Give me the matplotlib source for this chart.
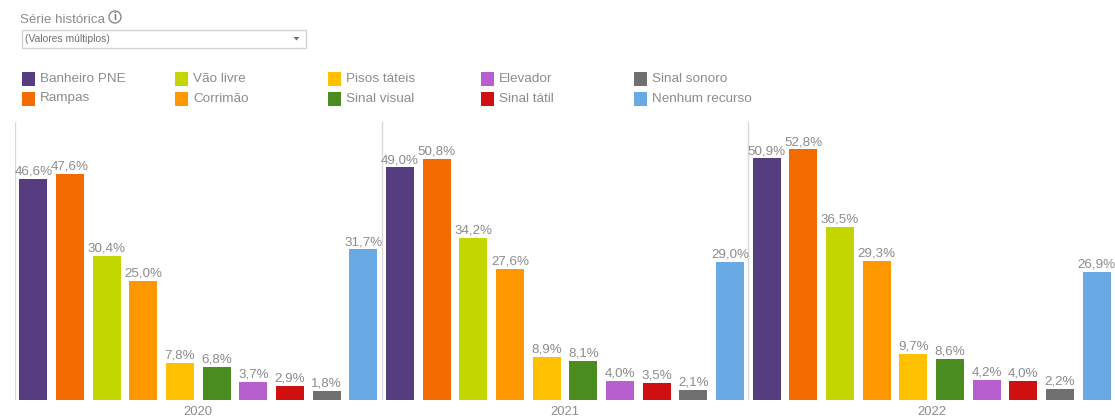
import matplotlib
matplotlib.use('Agg')
import matplotlib.pyplot as plt
from matplotlib.patches import Rectangle, Circle, Polygon

plt.rcParams['font.family'] = ['Liberation Sans', 'DejaVu Sans']

years = ['2020', '2021', '2022']
resources = ['Banheiro PNE', 'Rampas', 'Vão livre', 'Corrimão', 'Pisos táteis',
             'Sinal visual', 'Elevador', 'Sinal tátil', 'Sinal sonoro', 'Nenhum recurso']
colors = ['#563D82', '#F26A00', '#C4D600', '#FF9800', '#FFC000',
          '#4A8C1F', '#B85FCF', '#D01010', '#707070', '#6AAAE4']
values_2020 = [46.6, 47.6, 30.4, 25.0, 7.8, 6.8, 3.7, 2.9, 1.8, 31.7]
values_2021 = [49.0, 50.8, 34.2, 27.6, 8.9, 8.1, 4.0, 3.5, 2.1, 29.0]
values_2022 = [50.9, 52.8, 36.5, 29.3, 9.7, 8.6, 4.2, 4.0, 2.2, 26.9]

W, H = 1115, 416
text_grey = '#8C8C8C'

fig = plt.figure(figsize=(W / 100, H / 100), dpi=100)

# overlay in pixel coordinates for the filter widget and legend
top = fig.add_axes([0, 0, 1, 1])
top.set_xlim(0, W)
top.set_ylim(H, 0)
top.axis('off')

top.text(20, 20, 'Série histórica', fontsize=9.6, color=text_grey, va='center')
top.add_patch(Circle((115, 17), 6, fc='white', ec='#8A8A8A', lw=1))
top.text(115, 17, 'i', fontsize=7.5, color='#777777', ha='center', va='center', fontweight='bold')
top.add_patch(Rectangle((21.5, 29.5), 284, 18, fc='white', ec='#D2D2D2', lw=1))
top.text(25, 38.5, '(Valores múltiplos)', fontsize=7.4, color='#707070', va='center')
top.add_patch(Polygon([(293.5, 37), (299.5, 37), (296.5, 40.5)], fc='#707070', ec='none'))

# legend runs down then across, two entries per column
for i, (name, c) in enumerate(zip(resources, colors)):
    col, row = i // 2, i % 2
    x = 22 + col * 153
    y = 72 + row * 19.5
    top.add_patch(Rectangle((x, y), 13, 14, fc=c, ec='none'))
    top.text(x + 18, y + 7, name, fontsize=9.7, color=text_grey, va='center')

# bars
ax = fig.add_axes([15 / W, (H - 399.5) / H, 1100 / W, 277.5 / H])
ax.patch.set_alpha(0)
ax.set_xlim(-0.5, 29.5)
ax.set_ylim(0, 277.5 / 4.735)

for g, vals in enumerate([values_2020, values_2021, values_2022]):
    xs = [g * 10 + k for k in range(10)]
    ax.bar(xs, vals, width=0.77, color=colors)
    for x, v in zip(xs, vals):
        label = f'{v:.1f}%'.replace('.', ',')
        ax.annotate(label, (x, v), xytext=(0, 1), textcoords='offset points',
                    ha='center', va='bottom', fontsize=9.6, color=text_grey,
                    annotation_clip=False)

ax.set_xticks([4.5, 14.5, 24.5])
ax.set_xticklabels(years, fontsize=9.4, color=text_grey)
ax.tick_params(axis='x', length=0, pad=5)
ax.set_yticks([])
for side in ['top', 'right', 'bottom', 'left']:
    ax.spines[side].set_visible(False)
for sep in [-0.5, 9.5, 19.5]:
    ax.axvline(sep, color='#D9D9D9', lw=1)

fig.savefig('out.png', dpi=100)
